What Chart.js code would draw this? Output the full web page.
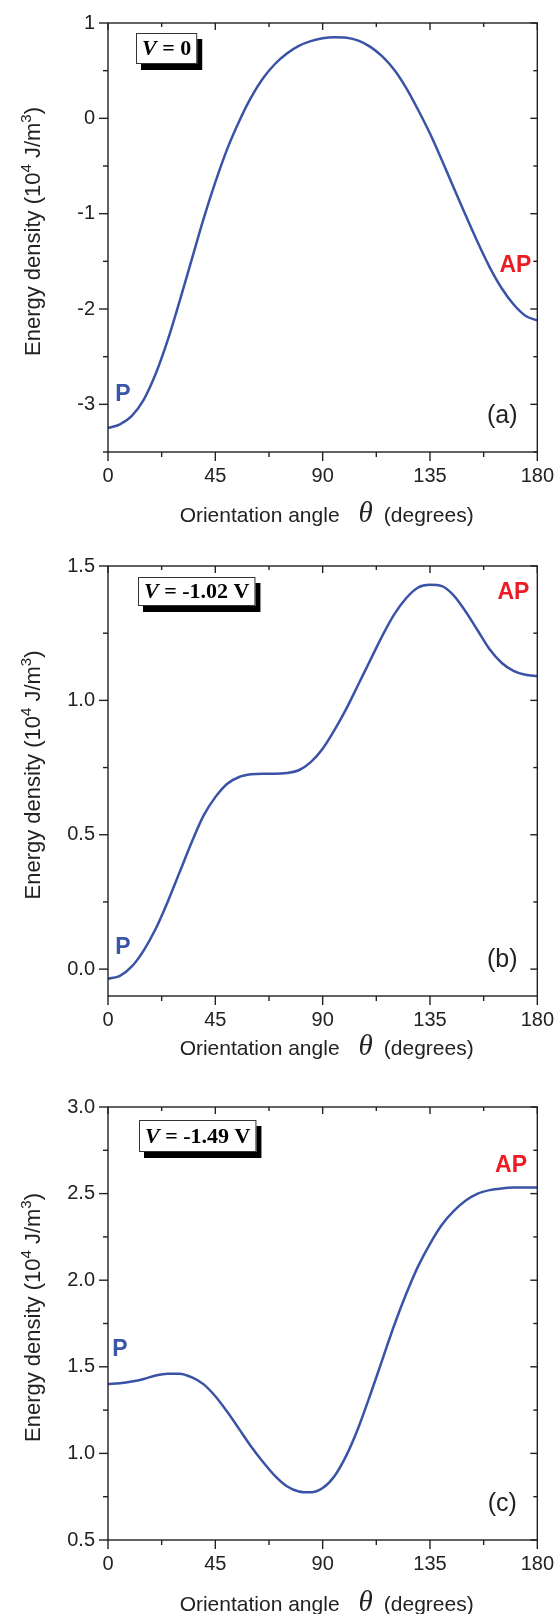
<!DOCTYPE html>
<html>
<head>
<meta charset="utf-8">
<script src="https://cdn.jsdelivr.net/npm/chart.js@4.4.1/dist/chart.umd.min.js"></script>
<style>
  body { margin: 0; background: #fff; }
  .panel { position: absolute; left: 0; }
  canvas { display: block; }
</style>
</head>
<body>
<div class="panel" style="top:0"><canvas id="chartA" width="556" height="540"></canvas></div>
<div class="panel" style="top:540px"><canvas id="chartB" width="556" height="540"></canvas></div>
<div class="panel" style="top:1080px"><canvas id="chartC" width="556" height="534"></canvas></div>
<script>
// angle grid shared by all three curves (degrees)
const angles = [0, 5, 10, 15, 20, 25, 30, 35, 40, 45, 50, 55, 60, 65, 70, 75, 80, 85, 90,
  95, 100, 105, 110, 115, 120, 125, 130, 135, 140, 145, 150, 155, 160, 165, 170, 175, 180];

// energy density, 10^4 J/m^3
const energyA = [-3.25, -3.21, -3.12, -2.95, -2.68, -2.33, -1.92, -1.49, -1.06, -0.67, -0.32, -0.03,
  0.22, 0.42, 0.57, 0.68, 0.76, 0.81, 0.84, 0.85, 0.845, 0.815, 0.75, 0.65, 0.51, 0.32, 0.09,
  -0.16, -0.44, -0.73, -1.02, -1.30, -1.56, -1.78, -1.95, -2.07, -2.12];
const energyB = [-0.036, -0.025, 0.01, 0.07, 0.15, 0.25, 0.36, 0.47, 0.57, 0.64, 0.69, 0.715,
  0.725, 0.727, 0.727, 0.73, 0.74, 0.77, 0.82, 0.89, 0.97, 1.06, 1.15, 1.24, 1.32, 1.38, 1.42,
  1.43, 1.425, 1.39, 1.33, 1.26, 1.19, 1.14, 1.11, 1.095, 1.09];
const energyC = [1.40, 1.405, 1.415, 1.43, 1.45, 1.46, 1.46, 1.44, 1.40, 1.33, 1.24, 1.14, 1.04,
  0.95, 0.87, 0.81, 0.78, 0.775, 0.80, 0.87, 0.99, 1.15, 1.34, 1.54, 1.74, 1.92, 2.08, 2.21,
  2.32, 2.40, 2.46, 2.50, 2.52, 2.53, 2.535, 2.535, 2.535];

const xTicks = [0, 45, 90, 135, 180];
const xMinor = [22.5, 67.5, 112.5, 157.5];
const yTicksA = [-3, -2, -1, 0, 1];
const yMinorA = [-3.5, -2.5, -1.5, -0.5, 0.5];
const yTicksB = [0, 0.5, 1, 1.5];
const yMinorB = [0.25, 0.75, 1.25];
const yTicksC = [0.5, 1, 1.5, 2, 2.5, 3];
const yMinorC = [0.75, 1.25, 1.75, 2.25, 2.75];

const voltages = ["0", "-1.02 V", "-1.49 V"];
const panelTags = ["(a)", "(b)", "(c)"];

const SANS = "'Liberation Sans', Arial, sans-serif";
const SERIF = "'Liberation Serif', 'Times New Roman', serif";
const CURVE = "#3a53a6";
const INK = "#222";

const line = (ctx, x1, y1, x2, y2) => {
  ctx.beginPath();
  ctx.moveTo(x1, y1);
  ctx.lineTo(x2, y2);
  ctx.stroke();
};

// axis frame, ticks on all four sides, titles and annotations
const decorPlugin = {
  id: "decor",
  afterDatasetsDraw(chart, args, o) {
    const { ctx, chartArea: a, scales: { x, y } } = chart;
    ctx.save();
    ctx.strokeStyle = INK;
    ctx.lineWidth = 1.4;
    ctx.strokeRect(a.left, a.top, a.right - a.left, a.bottom - a.top);

    xTicks.forEach((v) => {
      const px = x.getPixelForValue(v);
      line(ctx, px, a.bottom, px, a.bottom + 9);
      line(ctx, px, a.top, px, a.top + 7);
    });
    xMinor.forEach((v) => {
      const px = x.getPixelForValue(v);
      line(ctx, px, a.bottom, px, a.bottom + 5);
      line(ctx, px, a.top, px, a.top + 4);
    });
    o.yMajor.forEach((v) => {
      const py = y.getPixelForValue(v);
      line(ctx, a.left - 9, py, a.left, py);
      line(ctx, a.right - 7, py, a.right, py);
    });
    o.yMinor.forEach((v) => {
      const py = y.getPixelForValue(v);
      line(ctx, a.left - 5, py, a.left, py);
      line(ctx, a.right - 4, py, a.right, py);
    });

    // x title with a large serif italic theta
    ctx.fillStyle = INK;
    ctx.textBaseline = "alphabetic";
    ctx.textAlign = "left";
    const partA = "Orientation angle";
    const partB = "(degrees)";
    const sansTitle = `21px ${SANS}`;
    const thetaFont = `italic 29px ${SERIF}`;
    ctx.font = sansTitle;
    const wA = ctx.measureText(partA).width;
    const wB = ctx.measureText(partB).width;
    ctx.font = thetaFont;
    const wT = ctx.measureText("\u03b8").width;
    const gap1 = 19;
    const gap2 = 11;
    let tx = (a.left + a.right) / 2 + 4 - (wA + gap1 + wT + gap2 + wB) / 2;
    const ty = a.bottom + o.titleGap;
    ctx.font = sansTitle;
    ctx.fillText(partA, tx, ty);
    tx += wA + gap1;
    ctx.font = thetaFont;
    ctx.fillText("\u03b8", tx, ty);
    tx += wT + gap2;
    ctx.font = sansTitle;
    ctx.fillText(partB, tx, ty);

    // y title, rotated, with superscripts
    const bits = [["Energy density (10", false], ["4", true], [" J/m", false], ["3", true], [")", false]];
    const fontOf = (sup) => (sup ? `15px ${SANS}` : `22px ${SANS}`);
    let total = 0;
    bits.forEach(([t, sup]) => { ctx.font = fontOf(sup); total += ctx.measureText(t).width; });
    ctx.save();
    ctx.translate(40, (a.top + a.bottom) / 2 - 6);
    ctx.rotate(-Math.PI / 2);
    let sx = -total / 2;
    bits.forEach(([t, sup]) => {
      ctx.font = fontOf(sup);
      ctx.fillText(t, sx, sup ? -9 : 0);
      sx += ctx.measureText(t).width;
    });
    ctx.restore();

    // voltage box with drop shadow
    ctx.font = `italic bold 22px ${SERIF}`;
    const wV = ctx.measureText("V").width;
    ctx.font = `bold 22px ${SERIF}`;
    const rest = " = " + o.voltage;
    const wR = ctx.measureText(rest).width;
    const bx = a.left + o.boxDx;
    const by = a.top + o.boxDy;
    const bw = wV + wR + 12;
    const bh = o.boxH;
    ctx.fillStyle = "#000";
    ctx.fillRect(bx + 5, by + 6, bw, bh);
    ctx.fillStyle = "#fff";
    ctx.fillRect(bx, by, bw, bh);
    ctx.lineWidth = 1;
    ctx.strokeStyle = "#333";
    ctx.strokeRect(bx + 0.5, by + 0.5, bw - 1, bh - 1);
    ctx.fillStyle = "#000";
    ctx.textBaseline = "middle";
    ctx.font = `italic bold 22px ${SERIF}`;
    ctx.fillText("V", bx + 6, by + bh / 2 + 1);
    ctx.font = `bold 22px ${SERIF}`;
    ctx.fillText(rest, bx + 6 + wV, by + bh / 2 + 1);

    // P / AP state labels placed on the data scales
    ctx.textAlign = "center";
    ctx.font = `bold 23px ${SANS}`;
    ctx.fillStyle = "#3a56a8";
    ctx.fillText("P", x.getPixelForValue(o.pAt[0]), y.getPixelForValue(o.pAt[1]));
    ctx.fillStyle = "#ec1c24";
    ctx.fillText("AP", x.getPixelForValue(o.apAt[0]), y.getPixelForValue(o.apAt[1]));

    // panel tag
    ctx.fillStyle = INK;
    ctx.font = `25px ${SANS}`;
    ctx.fillText(o.tag, a.right - 35, a.bottom - 36);
    ctx.restore();
  },
};

const makeChart = (id, values, cfg) => {
  new Chart(document.getElementById(id), {
    type: "line",
    data: {
      datasets: [{
        data: angles.map((t, i) => ({ x: t, y: values[i] })),
        borderColor: CURVE,
        borderWidth: 2.5,
        pointRadius: 0,
        cubicInterpolationMode: "monotone",
        fill: false,
      }],
    },
    options: {
      responsive: false,
      animation: false,
      events: [],
      layout: { padding: { top: cfg.top, right: 18, left: 0, bottom: 0 } },
      plugins: {
        legend: { display: false },
        tooltip: { enabled: false },
        decor: cfg.decor,
      },
      scales: {
        x: {
          type: "linear",
          min: 0,
          max: 180,
          afterBuildTicks: (s) => { s.ticks = xTicks.map((v) => ({ value: v })); },
          afterFit: (s) => { s.height = cfg.xHeight; },
          grid: { display: false, tickLength: 10 },
          border: { display: false },
          ticks: { padding: 2, color: INK, font: { family: SANS, size: 20 }, maxRotation: 0 },
        },
        y: {
          min: cfg.min,
          max: cfg.max,
          afterBuildTicks: (s) => { s.ticks = cfg.yMajor.map((v) => ({ value: v })); },
          afterFit: (s) => { s.width = 108; },
          grid: { display: false, tickLength: 9 },
          border: { display: false },
          ticks: {
            padding: 4,
            color: INK,
            font: { family: SANS, size: 20 },
            callback: (v) => v.toFixed(cfg.decimals),
          },
        },
      },
    },
    plugins: [decorPlugin],
  });
};

makeChart("chartA", energyA, {
  top: 23, xHeight: 88, min: -3.5, max: 1, decimals: 0, yMajor: yTicksA,
  decor: { yMajor: yTicksA, yMinor: yMinorA, titleGap: 70, voltage: voltages[0], boxDx: 28, boxDy: 10, boxH: 31,
    pAt: [6.3, -2.9], apAt: [170.8, -1.55], tag: panelTags[0] },
});
makeChart("chartB", energyB, {
  top: 26, xHeight: 84, min: -0.1, max: 1.5, decimals: 1, yMajor: yTicksB,
  decor: { yMajor: yTicksB, yMinor: yMinorB, titleGap: 59, voltage: voltages[1], boxDx: 30, boxDy: 11, boxH: 29,
    pAt: [6.3, 0.08], apAt: [170, 1.40], tag: panelTags[1] },
});
makeChart("chartC", energyC, {
  top: 27, xHeight: 74, min: 0.5, max: 3, decimals: 1, yMajor: yTicksC,
  decor: { yMajor: yTicksC, yMinor: yMinorC, titleGap: 71, voltage: voltages[2], boxDx: 31, boxDy: 13, boxH: 32,
    pAt: [5, 1.6], apAt: [169, 2.66], tag: panelTags[2] },
});
</script>
</body>
</html>
